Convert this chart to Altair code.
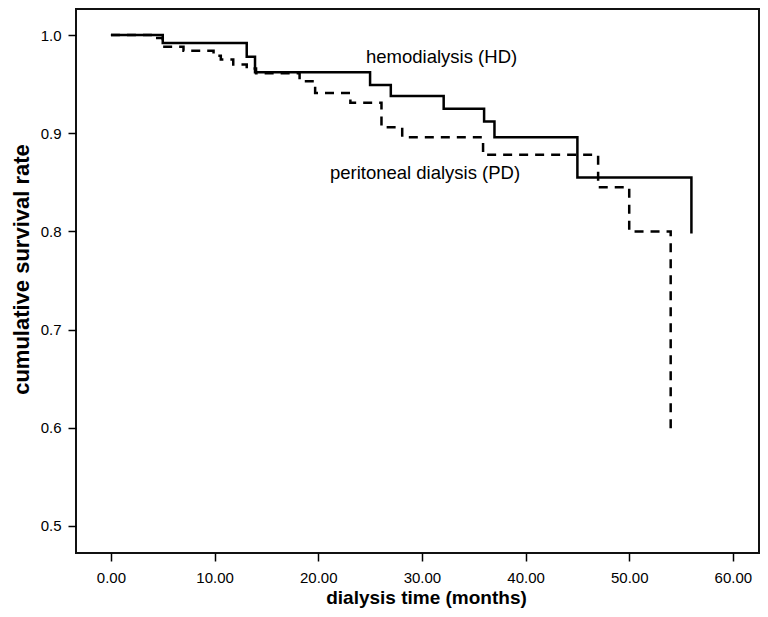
import altair as alt
import pandas as pd

# Hemodialysis (HD) Kaplan-Meier steps
hd_time = [0, 5.0, 13.1, 13.9, 25.0, 27.0, 32.1, 36.0, 37.0, 45.0, 56.0]
hd_surv = [1.0, 0.992, 0.978, 0.962, 0.949, 0.938, 0.925, 0.912, 0.896, 0.855, 0.798]

# Peritoneal dialysis (PD) Kaplan-Meier steps
pd_time = [0, 4.0, 5.0, 7.0, 9.9, 10.6, 11.8, 13.1, 14.0, 18.2, 19.7, 23.1, 26.1, 28.1, 35.9, 47.0, 50.0, 54.0]
pd_surv = [1.0, 0.997, 0.988, 0.984, 0.979, 0.975, 0.970, 0.966, 0.961, 0.953, 0.941, 0.931, 0.906, 0.896, 0.878, 0.845, 0.800, 0.595]

x_ticks = [0, 10, 20, 30, 40, 50, 60]
y_ticks = [0.5, 0.6, 0.7, 0.8, 0.9, 1.0]

label_text = ["hemodialysis (HD)", "peritoneal dialysis (PD)"]
label_x = [31.9, 30.3]
label_y = [0.978, 0.859]

FONT = "Liberation Sans"

hd = pd.DataFrame({"t": hd_time, "s": hd_surv})
pdd = pd.DataFrame({"t": pd_time, "s": pd_surv})
labels = pd.DataFrame({"t": label_x, "s": label_y, "txt": label_text})

xscale = alt.Scale(domain=[-3.37, 62.52], nice=False, zero=False)
yscale = alt.Scale(domain=[0.4725, 1.0265], nice=False, zero=False)

xaxis = alt.Axis(values=x_ticks, format=".2f", title="dialysis time (months)",
                 grid=False, domain=False, tickSize=8, tickWidth=1.5, tickColor="black",
                 labelFont=FONT, labelFontSize=15, labelColor="black", labelPadding=9,
                 titleFont=FONT, titleFontSize=19, titleFontWeight="bold", titleColor="black",
                 titlePadding=3, titleX=350)
yaxis = alt.Axis(values=y_ticks, format=".1f", title="cumulative survival rate",
                 grid=False, domain=False, tickSize=8, tickWidth=1.5, tickColor="black",
                 labelFont=FONT, labelFontSize=15, labelColor="black", labelPadding=7,
                 titleFont=FONT, titleFontSize=22, titleFontWeight="bold", titleColor="black",
                 titlePadding=7, titleY=260)

hd_line = alt.Chart(hd).mark_line(interpolate="step-after", color="black", strokeWidth=2.5).encode(
    x=alt.X("t:Q", scale=xscale, axis=xaxis),
    y=alt.Y("s:Q", scale=yscale, axis=yaxis),
)
pd_line = alt.Chart(pdd).mark_line(interpolate="step-after", color="black", strokeWidth=2.5,
                                   strokeDash=[9, 7]).encode(
    x=alt.X("t:Q", scale=xscale),
    y=alt.Y("s:Q", scale=yscale),
)
txt = alt.Chart(labels).mark_text(font=FONT, fontSize=18.5, color="black", align="center",
                                  baseline="middle").encode(
    x=alt.X("t:Q", scale=xscale),
    y=alt.Y("s:Q", scale=yscale),
    text="txt:N",
)

chart = (hd_line + pd_line + txt).properties(
    width=683, height=544,
    autosize=alt.AutoSizeParams(type="none"),
    padding={"left": 68, "top": 1, "right": 1, "bottom": 56},
).configure_view(stroke="#111", strokeWidth=2)

chart.save("out.html", embed_options={"renderer": "svg", "actions": False})
